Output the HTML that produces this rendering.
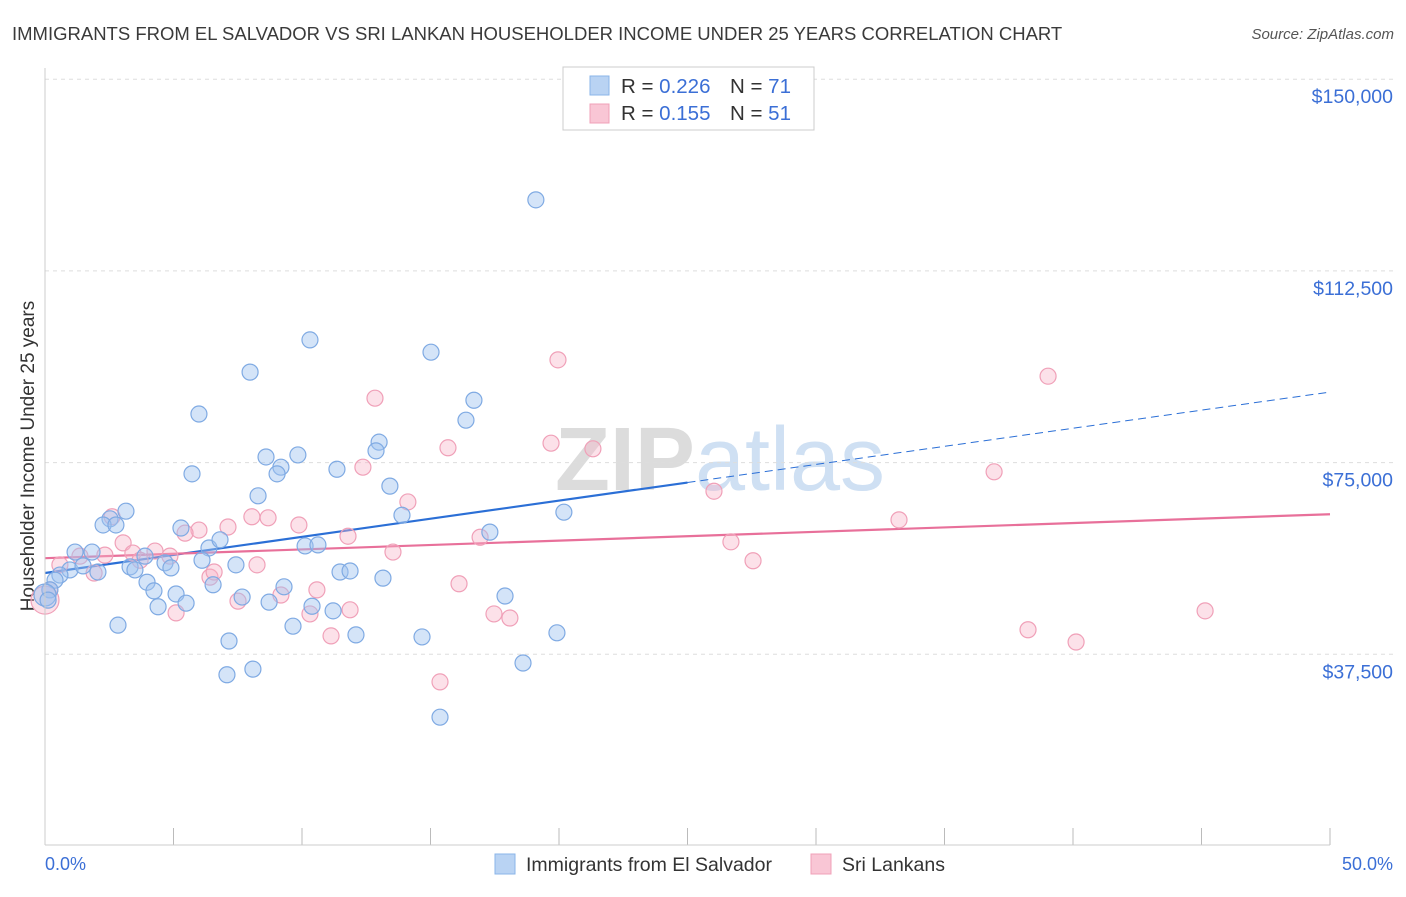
<!DOCTYPE html>
<html><head><meta charset="utf-8"><style>
body{margin:0;background:#fff;font-family:"Liberation Sans",sans-serif;}
svg text{font-family:"Liberation Sans",sans-serif;}
</style></head><body>
<svg id="chart" width="1406" height="892">
<text x="12" y="40" font-size="18.5" fill="#3a3a3a">IMMIGRANTS FROM EL SALVADOR VS SRI LANKAN HOUSEHOLDER INCOME UNDER 25 YEARS CORRELATION CHART</text>
<text x="1394" y="39" font-size="15" fill="#555" font-style="italic" text-anchor="end">Source: ZipAtlas.com</text>
<text transform="translate(34,456) rotate(-90)" font-size="19" fill="#333" text-anchor="middle">Householder Income Under 25 years</text>
<text x="720" y="490" font-size="90" fill="#e4e4e4" text-anchor="middle" font-family="Liberation Serif"><tspan font-weight="bold" fill="#dcdcdc">ZIP</tspan><tspan fill="#cfe0f3">atlas</tspan></text>
<g id="grid"></g><g id="trends"></g><g id="pts"></g>
<line x1="45" y1="68" x2="45" y2="845" stroke="#ccc"/>
<line x1="45" y1="845" x2="1330" y2="845" stroke="#ccc"/>
<text x="45" y="870" font-size="18" fill="#3b6fd6">0.0%</text>
<text x="1393" y="870" font-size="18" fill="#3b6fd6" text-anchor="end">50.0%</text>
<g>
<rect x="563" y="67" width="251" height="63" fill="#fff" stroke="#ccc"/>
<rect x="590" y="76" width="19" height="19" fill="#b9d3f3" stroke="#8ab4e8"/>
<rect x="590" y="104" width="19" height="19" fill="#f9c6d5" stroke="#f0a0b8"/>
<text x="621" y="93" font-size="20.5" fill="#333">R = <tspan fill="#3b6fd6">0.226</tspan><tspan x="730">N = </tspan><tspan fill="#3b6fd6">71</tspan></text>
<text x="621" y="120" font-size="20.5" fill="#333">R = <tspan fill="#3b6fd6"> 0.155</tspan><tspan x="730">N = </tspan><tspan fill="#3b6fd6">51</tspan></text>
</g>
<g>
<rect x="495" y="854" width="20" height="20" fill="#b9d3f3" stroke="#8ab4e8"/>
<text x="526" y="871" font-size="19.5" fill="#333">Immigrants from El Salvador</text>
<rect x="811" y="854" width="20" height="20" fill="#f9c6d5" stroke="#f0a0b8"/>
<text x="842" y="871" font-size="19.5" fill="#333">Sri Lankans</text>
</g>
</svg>
<script>
const yTicks=[37.5,75,112.5,150];
const yTickLabels=["$37,500","$75,000","$112,500","$150,000"];
const xTicks=[5,10,15,20,25,30,35,40,45,50];
const blueX=[19.10,10.31,15.02,7.98,5.99,16.69,16.38,13.0,12.88,9.84,8.6,9.18,5.72,9.03,11.36,13.42,8.29,3.15,2.53,2.26,2.76,13.89,20.19,17.31,5.29,6.38,6.81,1.17,1.83,3.89,6.11,7.43,10.12,10.62,3.31,3.5,4.67,4.9,0.97,1.48,2.06,0.58,0.39,3.97,4.24,5.1,5.49,4.4,6.54,7.67,9.3,8.72,11.48,11.87,13.15,10.39,11.21,17.9,2.84,9.65,7.16,12.1,14.67,19.92,8.09,7.08,18.6,15.37,0.19,0,0.12];
const blueY=[126.4,99.0,96.6,92.7,84.5,87.2,83.3,79.0,77.3,76.5,76.1,74.1,72.8,72.8,73.7,70.4,68.5,65.5,64.0,62.8,62.8,64.7,65.3,61.4,62.2,58.3,59.9,57.5,57.5,56.7,55.9,55.0,58.7,58.9,54.6,54.0,55.4,54.4,54.0,54.8,53.6,53.0,52.0,51.6,49.9,49.3,47.5,46.8,51.1,48.7,50.7,47.7,53.6,53.8,52.4,46.9,46.0,48.9,43.2,43.0,40.1,41.3,40.9,41.7,34.6,33.5,35.8,25.2,50.1,49.1,48.1];
const pinkX=[19.96,39.03,12.84,15.68,19.69,21.32,36.93,14.12,26.03,33.23,2.61,8.05,8.68,9.88,5.99,5.45,7.12,11.79,16.93,3.04,2.33,4.28,4.86,3.42,13.54,26.69,27.55,8.25,6.42,6.58,1.91,10.58,16.11,9.18,7.51,5.1,11.87,10.31,17.47,18.09,11.13,45.14,38.25,40.12,15.37,0,0.19,1.36,0.58,12.37,3.7];
const pinkY=[95.1,91.9,87.6,77.9,78.8,77.7,73.2,67.3,69.4,63.8,64.4,64.4,64.2,62.8,61.8,61.2,62.4,60.6,60.4,59.3,56.9,57.7,56.7,57.3,57.5,59.5,55.8,55.0,52.6,53.6,53.4,50.1,51.3,49.1,47.9,45.6,46.2,45.4,45.4,44.6,41.1,46.0,42.3,39.9,32.1,48.1,50.1,56.7,55.0,74.1,55.9];
const blueTrend=[53.4,88.8]; const blueSolidEnd=25;
const pinkTrend=[56.3,64.9];
const NS="http://www.w3.org/2000/svg";
const sx=v=>45+v/50*1285, sy=v=>846-v/37.5*191.7;
function mk(p,t,a){const e=document.createElementNS(NS,t);for(const k in a)e.setAttribute(k,a[k]);p.appendChild(e);return e;}
const grid=document.getElementById('grid');
yTicks.forEach((v,i)=>{
 const l=mk(grid,'line',{x1:45,x2:1393,y1:sy(v),y2:sy(v),stroke:'#ddd','stroke-dasharray':'4,4'});
 
 
 const t=mk(grid,'text',{x:1393,y:sy(v)+24,'font-size':19.5,fill:'#3b6fd6','text-anchor':'end'});
 t.textContent=yTickLabels[i];
 
 
});
xTicks.forEach(v=>{
 const l=mk(grid,'line',{x1:sx(v),x2:sx(v),y1:828,y2:845,stroke:'#bbb'});
 
 
});
const tr=document.getElementById('trends');
const lin=(a,x)=>a[0]+(a[1]-a[0])*x/50;
let b1=mk(tr,'line',{x1:sx(0),y1:sy(lin(blueTrend,0)),x2:sx(blueSolidEnd),y2:sy(lin(blueTrend,blueSolidEnd)),stroke:'#2b6fd6','stroke-width':2.2});


let b2=mk(tr,'line',{x1:sx(blueSolidEnd),y1:sy(lin(blueTrend,blueSolidEnd)),x2:sx(50),y2:sy(lin(blueTrend,50)),stroke:'#2b6fd6','stroke-width':1,'stroke-dasharray':'8,5'});


let p1=mk(tr,'line',{x1:sx(0),y1:sy(lin(pinkTrend,0)),x2:sx(50),y2:sy(lin(pinkTrend,50)),stroke:'#e8709a','stroke-width':2.2});


const pts=document.getElementById('pts');
pinkX.forEach((x,i)=>{
 const c=mk(pts,'circle',{cx:sx(x),cy:sy(pinkY[i]),r:(x===0?14:8),fill:'rgba(248,180,200,0.4)',stroke:'#f0a0b8','stroke-width':1.2});
 
 
});
blueX.forEach((x,i)=>{
 const c=mk(pts,'circle',{cx:sx(x),cy:sy(blueY[i]),r:(x===0?11:8),fill:'rgba(160,196,240,0.45)',stroke:'#7faae3','stroke-width':1.2});
 
 
});
</script>
</body></html>
